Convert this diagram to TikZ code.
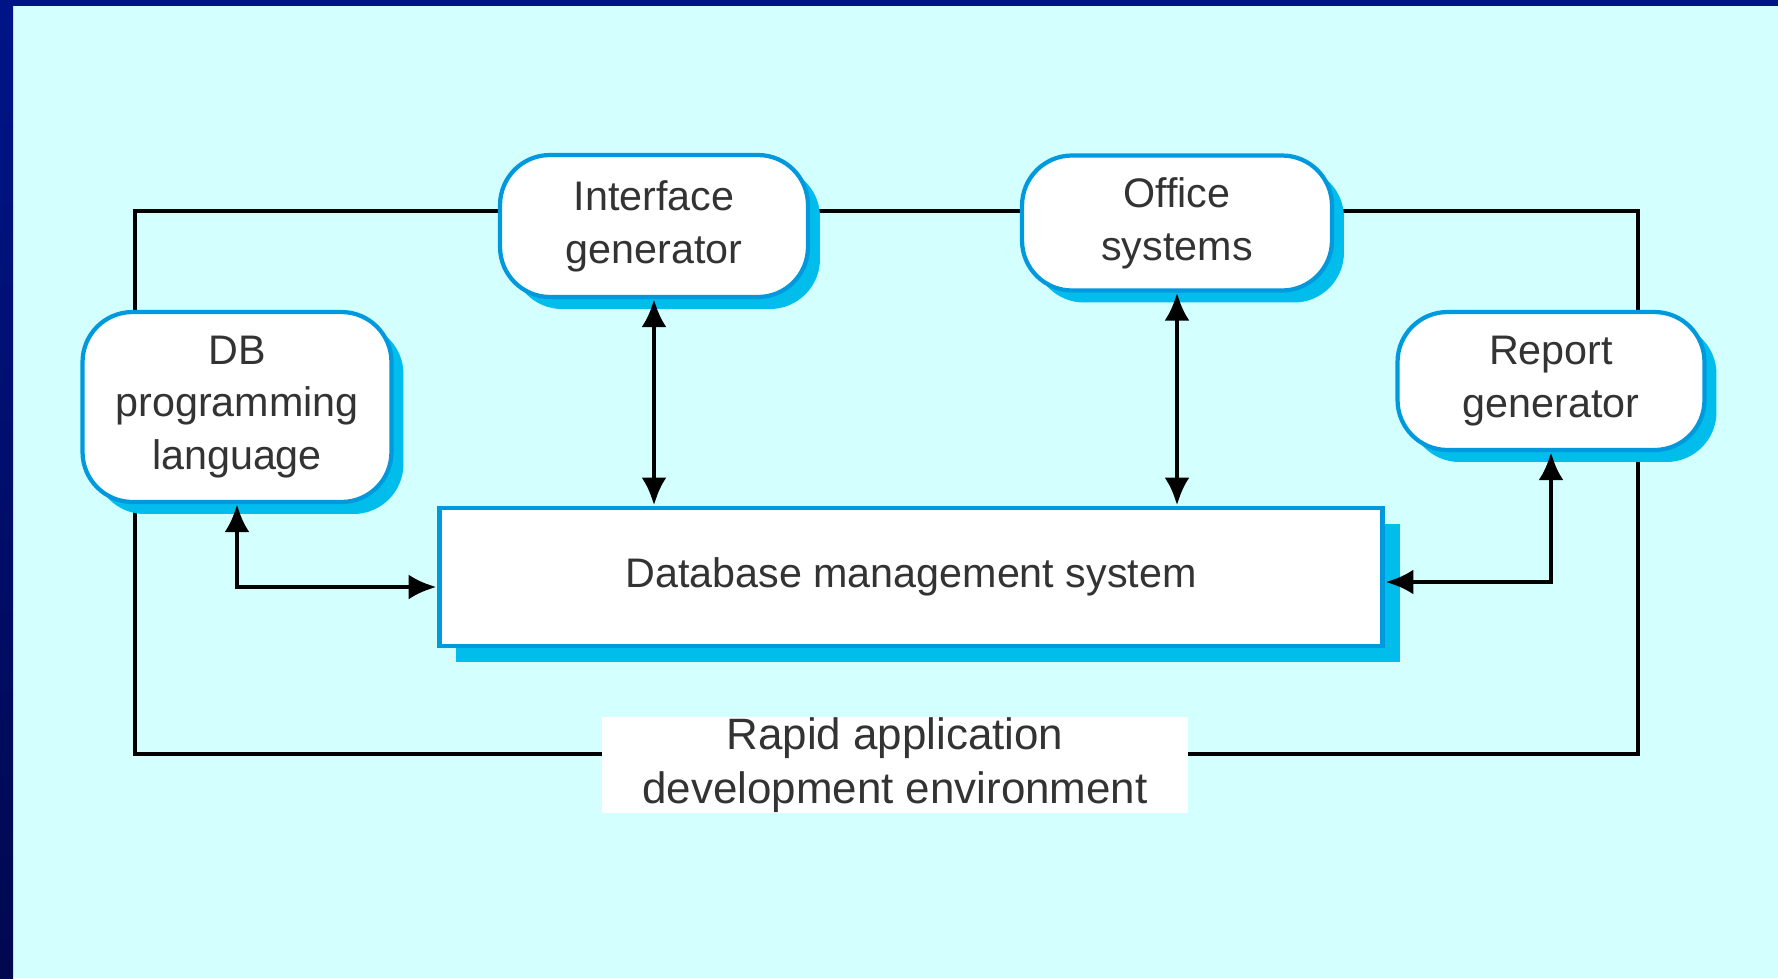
\documentclass[tikz,border=0pt]{standalone}
\usepackage{fontspec}
\setmainfont{Liberation Sans}
\usetikzlibrary{arrows.meta,shadows}
\definecolor{bgcyan}{HTML}{D4FFFF}
\definecolor{navy}{HTML}{001488}
\definecolor{navydark}{HTML}{00084F}
\definecolor{edgeblue}{HTML}{0099DD}
\definecolor{shadeblue}{HTML}{00BDEB}
\definecolor{ink}{HTML}{333333}

\begin{document}
\begin{tikzpicture}[x=0.02cm, y=-0.02cm,
    txt/.style={text=ink, align=center, font=\fontsize{23.5}{30}\selectfont},
    tool/.style={txt, draw=edgeblue, line width=2.4pt, fill=white, rounded corners=1cm,
        drop shadow={shadow xshift=0.24cm, shadow yshift=-0.24cm, fill=shadeblue, opacity=1}},
    core/.style={txt, draw=edgeblue, line width=2.8pt, fill=white,
        drop shadow={shadow xshift=0.34cm, shadow yshift=-0.32cm, fill=shadeblue, opacity=1}},
    link/.style={line width=2.8pt, <->, >={Latex[length=0.56cm,width=0.5cm]}}]
    \useasboundingbox (0,0) rectangle (1778,978);
    \fill[bgcyan] (0,0) rectangle (1778,978);
    \shade[top color=navy, bottom color=navydark] (0,0) rectangle (13,978);
    \fill[navy] (0,0) rectangle (1778,6);
    \draw[line width=2.8pt] (135,211) rectangle (1638,754);
    \node[tool, minimum width=6.18cm, minimum height=3.8cm] (db) at (237,407) {DB\\programming\\language};
    \node[tool, minimum width=6.16cm, minimum height=2.84cm] (intf) at (654,226) {Interface\\generator};
    \node[tool, minimum width=6.2cm, minimum height=2.7cm] (office) at (1177,223) {Office\\systems};
    \node[tool, minimum width=6.14cm, minimum height=2.76cm] (report) at (1551,381) {Report\\generator};
    \node[core, minimum width=18.88cm, minimum height=2.76cm] (dbms) at (911,577) {Database management system};
    \node[txt, fill=white, minimum width=11.74cm, minimum height=1.72cm, inner ysep=0pt,
        font=\fontsize{25}{31}\selectfont] (rad) at (895,765) {Rapid application\\development environment};
    \draw[link] (intf.south) -- (intf.south |- dbms.north);
    \draw[link] (office.south) -- (office.south |- dbms.north);
    \draw[link] (db.south) |- ([yshift=-0.2cm]dbms.west);
    \draw[link] (report.south) |- ([yshift=-0.1cm]dbms.east);
\end{tikzpicture}
\end{document}
